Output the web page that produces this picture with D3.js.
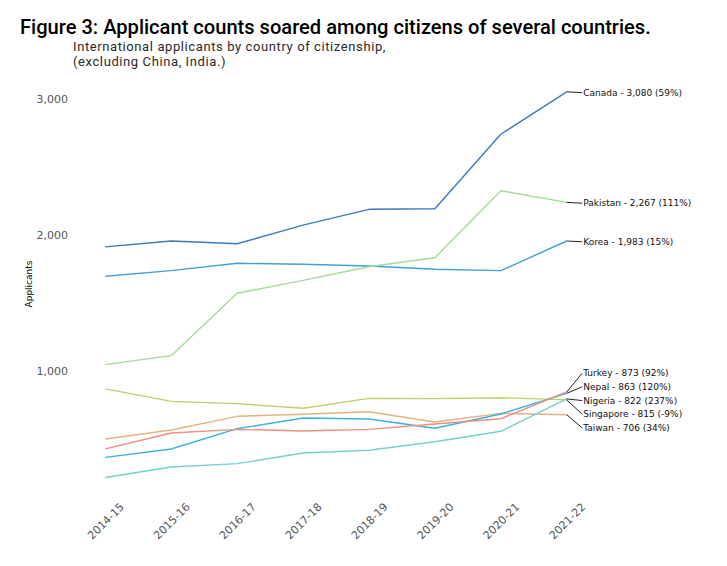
<!DOCTYPE html>
<html>
<head>
<meta charset="utf-8">
<script src="https://cdn.jsdelivr.net/npm/d3@7"></script>
<style>
  html, body { margin: 0; padding: 0; background: #fff; }
  svg { display: block; }
</style>
</head>
<body>
<svg id="chart" width="727" height="566"></svg>
<script>
const years = ["2014-15","2015-16","2016-17","2017-18","2018-19","2019-20","2020-21","2021-22"];
const countries = ["Canada","Pakistan","Korea","Turkey","Nepal","Nigeria","Singapore","Taiwan"];
const canada    = [1940, 1983, 1963, 2100, 2216, 2220, 2768, 3080];
const pakistan  = [1074, 1140, 1599, 1694, 1794, 1860, 2353, 2267];
const korea     = [1724, 1765, 1819, 1812, 1799, 1775, 1765, 1983];
const turkey    = [455, 571, 598, 586, 598, 637, 676, 873];
const nepal     = [392, 454, 603, 682, 674, 606, 711, 863];
const nigeria   = [244, 321, 346, 424, 444, 507, 584, 822];
const singapore = [896, 804, 787, 753, 826, 824, 831, 815];
const taiwan    = [527, 593, 694, 709, 728, 652, 716, 706];
const changePct = [59, 111, 15, 92, 120, 237, -9, 34];
const yTicks = [1000, 2000, 3000];
const colors = ["#3b7bbb", "#a6d89b", "#459fd8", "#ef8e7e", "#3cb1e2", "#74cfd0", "#bdd16a", "#e3b47c"];

const seriesValues = [canada, pakistan, korea, turkey, nepal, nigeria, singapore, taiwan];
const series = countries.map((name, i) => ({
  name, values: seriesValues[i], color: colors[i], pct: changePct[i]
}));

const svg = d3.select("#chart");
const fmt = d3.format(",");

const x = d3.scalePoint().domain(years).range([105.3, 566.7]);
const y = d3.scaleLinear().domain([0, 3000]).range([510.7, 102.7]);

// Title
svg.append("text")
  .attr("x", 20).attr("y", 34)
  .style("font-family", "Roboto, sans-serif")
  .style("font-size", "20.1px")
  .style("font-weight", 500)
  .attr("fill", "#000")
  .text("Figure 3: Applicant counts soared among citizens of several countries.");

const sub = svg.append("text")
  .style("font-family", "Roboto, sans-serif")
  .style("font-size", "13px")
  .style("letter-spacing", "0.6px")
  .attr("fill", "#2a2a2a");
sub.append("tspan").attr("x", 73).attr("y", 50.5).text("International applicants by country of citizenship,");
sub.append("tspan").attr("x", 73).attr("y", 65.8).text("(excluding China, India.)");

// Y axis
const yAxis = svg.append("g")
  .attr("transform", "translate(70,0)")
  .call(d3.axisLeft(y).tickValues(yTicks).tickFormat(fmt).tickSize(0).tickPadding(2));
yAxis.select(".domain").remove();
yAxis.selectAll("text")
  .attr("y", -3.7)
  .style("font-family", "'DejaVu Sans', sans-serif")
  .style("font-size", "11px")
  .attr("fill", "#555");

svg.append("text")
  .attr("transform", "translate(32,284) rotate(-90)")
  .attr("text-anchor", "middle")
  .style("font-family", "'DejaVu Sans', sans-serif")
  .style("font-size", "9px")
  .attr("fill", "#000")
  .text("Applicants");

// X axis
const xAxisY = 500;
const xAxis = svg.append("g")
  .attr("transform", `translate(0,${xAxisY})`)
  .call(d3.axisBottom(x).tickSize(0));
xAxis.select(".domain").remove();
xAxis.selectAll("text")
  .attr("y", 0).attr("dy", "0.35em")
  .attr("text-anchor", "middle")
  .attr("transform", `translate(0,${521 - xAxisY}) rotate(-45)`)
  .style("font-family", "'DejaVu Sans', sans-serif")
  .style("font-size", "11px")
  .attr("fill", "#555");

// Lines
const line = d3.line().x((d, i) => x(years[i])).y(d => y(d));
svg.append("g").selectAll("path")
  .data(series.slice().reverse())
  .join("path")
  .attr("d", d => line(d.values))
  .attr("fill", "none")
  .attr("stroke", d => d.color)
  .attr("stroke-width", 1.4)
  .attr("stroke-linejoin", "round");

// Labels with collision avoidance
const spacing = 13.7;
const labels = series.map(s => {
  const v = s.values[s.values.length - 1];
  return { s, v, py: y(v), ly: y(v) };
}).sort((a, b) => a.py - b.py);

let groups = labels.map(l => ({ items: [l], center: l.py }));
let changed = true;
while (changed) {
  changed = false;
  for (let i = 0; i < groups.length - 1; i++) {
    const g1 = groups[i], g2 = groups[i + 1];
    const bottom1 = g1.center + (g1.items.length - 1) * spacing / 2;
    const top2 = g2.center - (g2.items.length - 1) * spacing / 2;
    if (top2 - bottom1 < spacing) {
      const items = g1.items.concat(g2.items);
      const center = d3.mean(items, d => d.py);
      groups.splice(i, 2, { items, center });
      changed = true;
      break;
    }
  }
}
groups.forEach(g => {
  g.items.forEach((it, j) => {
    it.ly = g.center + 0.8 + (j - (g.items.length - 1) / 2) * spacing;
  });
});

const lastX = x(years[years.length - 1]);
const lg = svg.append("g");
labels.forEach(l => {
  lg.append("line")
    .attr("x1", lastX).attr("y1", l.py)
    .attr("x2", lastX + 15.5).attr("y2", l.ly)
    .attr("stroke", "#222").attr("stroke-width", 1);
  lg.append("text")
    .attr("x", lastX + 16.5).attr("y", l.ly).attr("dy", "0.35em")
    .style("font-family", "'DejaVu Sans', sans-serif")
    .style("font-size", "9px")
    .attr("fill", "#111")
    .text(`${l.s.name} - ${fmt(l.v)} (${l.s.pct}%)`);
});
</script>
</body>
</html>
